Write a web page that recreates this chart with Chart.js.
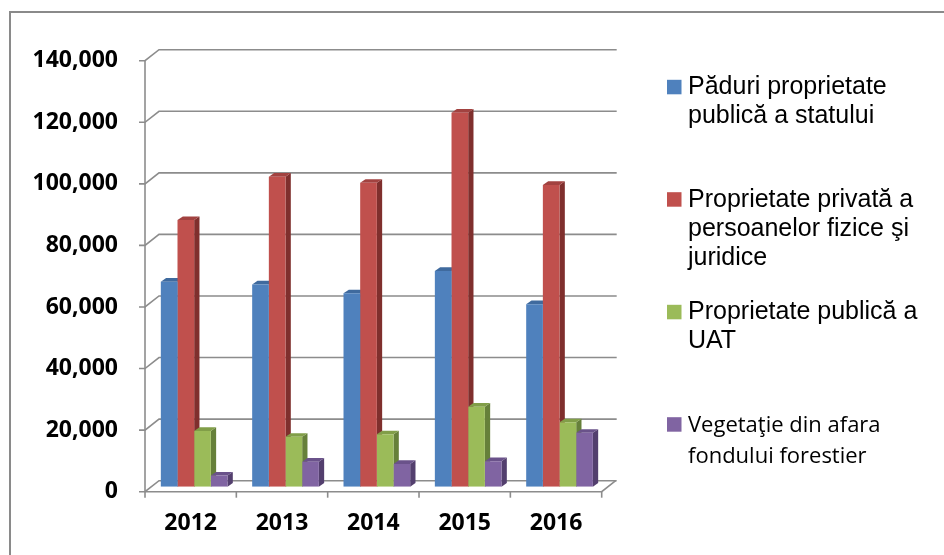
<!DOCTYPE html>
<html><head><meta charset="utf-8">
<script src="https://cdn.jsdelivr.net/npm/chart.js@4.4.1/dist/chart.umd.min.js"></script>
<style>html,body{margin:0;padding:0;background:#fff;overflow:hidden}canvas{display:block}</style>
</head><body>
<canvas id="c" width="944" height="555"></canvas>
<script>
// ---- data ----
const categories = ['2012', '2013', '2014', '2015', '2016'];
const seriesNames = [
  'Păduri proprietate publică a statului',
  'Proprietate privată a persoanelor fizice şi juridice',
  'Proprietate publică a UAT',
  'Vegetaţie din afara fondului forestier'
];
const legendLines = [
  ['Păduri proprietate', 'publică a statului'],
  ['Proprietate privată a', 'persoanelor fizice şi', 'juridice'],
  ['Proprietate publică a', 'UAT'],
  ['Vegetaţie din afara', 'fondului forestier']
];
const paduriStat = [66600, 65700, 62800, 70100, 59300];
const privata    = [86600, 100700, 98700, 121500, 98000];
const publicaUAT = [18100, 16200, 17000, 26000, 20900];
const vegetatie  = [3600, 8100, 7400, 8300, 17500];
const yTicks = [0, 20000, 40000, 60000, 80000, 100000, 120000, 140000];

// ---- styles ----
const frontColors = ['#4F81BD', '#C0504D', '#9BBB59', '#8064A2'];
const sideColors  = ['#385D8A', '#7F2F2D', '#66803A', '#533F6E'];
const topColors   = ['#3F6A9E', '#A24240', '#819E48', '#6A528A'];
const WALL = {dx: 14, dy: -11};
const BARSHIFT = {dx: 3.5, dy: -5};
const DEPTH = {dx: 5.3, dy: -3.7};
const GRID = '#8c8c8c';
const AXISFONT = {family: '"Open Sans"', weight: 'bold', size: 23};

const threeD = {
  id: 'threeD',
  beforeDraw(chart) {
    const ctx = chart.ctx;
    ctx.save();
    ctx.fillStyle = '#fff';
    ctx.fillRect(0, 0, chart.width, chart.height);
    ctx.strokeStyle = '#8a8a8a';
    ctx.lineWidth = 2;
    ctx.beginPath();
    ctx.moveTo(10, 560); ctx.lineTo(10, 12); ctx.lineTo(950, 12);
    ctx.stroke();
    ctx.restore();
  },
  beforeDatasetsDraw(chart) {
    const ctx = chart.ctx, a = chart.chartArea;
    const ys = chart.scales.y;
    ctx.save();
    ctx.strokeStyle = GRID;
    ctx.lineWidth = 1.6;
    ctx.lineCap = 'butt';
    yTicks.forEach(v => {
      const py = ys.getPixelForValue(v);
      ctx.beginPath();
      ctx.moveTo(a.left - 6, py);
      ctx.lineTo(a.left, py);
      ctx.lineTo(a.left + WALL.dx, py + WALL.dy);
      ctx.lineTo(a.right + WALL.dx + 1, py + WALL.dy);
      ctx.stroke();
    });
    ctx.beginPath();
    ctx.moveTo(a.left, ys.getPixelForValue(yTicks[yTicks.length - 1]));
    ctx.lineTo(a.left, a.bottom);
    ctx.stroke();
    ctx.beginPath();
    ctx.moveTo(a.left, a.bottom);
    ctx.lineTo(a.right, a.bottom);
    ctx.lineTo(a.right + WALL.dx, a.bottom + WALL.dy);
    ctx.stroke();
    const n = categories.length;
    const step = (a.right - a.left) / n;
    for (let i = 0; i <= n; i++) {
      const px = a.left + i * step;
      ctx.beginPath();
      ctx.moveTo(px, a.bottom);
      ctx.lineTo(px, a.bottom + 6);
      ctx.stroke();
    }
    ctx.restore();

    ctx.save();
    ctx.translate(BARSHIFT.dx, BARSHIFT.dy);
    chart.data.datasets.forEach((ds, i) => {
      const meta = chart.getDatasetMeta(i);
      meta.data.forEach(el => {
        const p = el.getProps(['x', 'y', 'base', 'width'], true);
        const L = p.x - p.width / 2, R = p.x + p.width / 2;
        const T = Math.min(p.y, p.base), B = Math.max(p.y, p.base);
        ctx.fillStyle = sideColors[i];
        ctx.beginPath();
        ctx.moveTo(R, T); ctx.lineTo(R + DEPTH.dx, T + DEPTH.dy);
        ctx.lineTo(R + DEPTH.dx, B + DEPTH.dy); ctx.lineTo(R, B);
        ctx.closePath(); ctx.fill();
        ctx.fillStyle = topColors[i];
        ctx.beginPath();
        ctx.moveTo(L, T); ctx.lineTo(L + DEPTH.dx, T + DEPTH.dy);
        ctx.lineTo(R + DEPTH.dx, T + DEPTH.dy); ctx.lineTo(R, T);
        ctx.closePath(); ctx.fill();
      });
    });
  },
  afterDatasetsDraw(chart) {
    chart.ctx.restore();
  },
  afterDraw(chart) {
    const ctx = chart.ctx;
    const firstBaselines = [94.3, 206.7, 319.3, 431.7];
    const lineHeights = [29, 29, 29, 31.6];
    const fonts = ['25px "Liberation Sans", Arial, sans-serif',
                   '25px "Liberation Sans", Arial, sans-serif',
                   '25px "Liberation Sans", Arial, sans-serif',
                   '22px "Open Sans", sans-serif'];
    ctx.save();
    chart.data.datasets.forEach((ds, i) => {
      const b = firstBaselines[i];
      ctx.fillStyle = ds.backgroundColor;
      ctx.fillRect(667, b - 14.5, 14.5, 14.5);
      ctx.fillStyle = '#000';
      ctx.font = fonts[i];
      ctx.textBaseline = 'alphabetic';
      ctx.textAlign = 'left';
      legendLines[i].forEach((t, k) => ctx.fillText(t, 688, b + k * lineHeights[i]));
    });
    ctx.restore();
  }
};

const seriesValues = [paduriStat, privata, publicaUAT, vegetatie];

new Chart(document.getElementById('c'), {
  type: 'bar',
  data: {
    labels: categories,
    datasets: seriesValues.map((vals, i) => ({
      label: seriesNames[i],
      data: vals,
      backgroundColor: frontColors[i],
      borderWidth: 0,
      categoryPercentage: 0.73,
      barPercentage: 1.0
    }))
  },
  options: {
    responsive: false,
    animation: false,
    devicePixelRatio: 1,
    layout: {padding: {left: 0, top: 60.7, right: 342.3, bottom: 0}},
    plugins: {legend: {display: false}, tooltip: {enabled: false}},
    scales: {
      x: {
        grid: {display: false, drawTicks: false},
        border: {display: false},
        ticks: {font: AXISFONT, color: '#000', padding: 18, maxRotation: 0},
        afterFit(s) { s.height = 63.3; }
      },
      y: {
        min: 0, max: 140000,
        grid: {display: false, drawTicks: false},
        border: {display: false},
        afterBuildTicks(s) { s.ticks = yTicks.map(v => ({value: v})); },
        ticks: {
          font: AXISFONT, color: '#000', padding: 27,
          callback: v => v.toLocaleString('en-US')
        },
        afterFit(s) { s.width = 145; }
      }
    }
  },
  plugins: [threeD]
});
</script>
</body></html>
